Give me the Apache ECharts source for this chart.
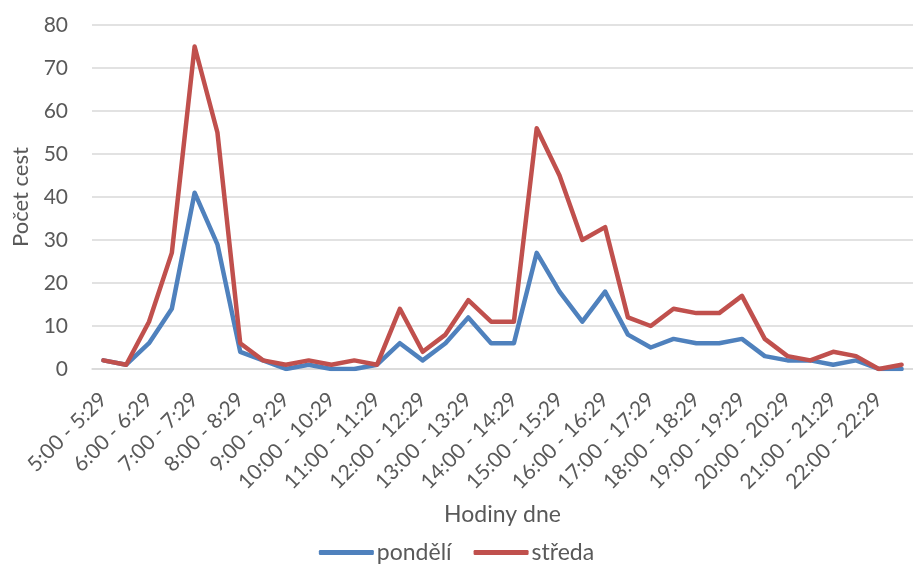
<!DOCTYPE html>
<html>
<head>
<meta charset="utf-8">
<script src="https://cdn.jsdelivr.net/npm/echarts@6/dist/echarts.min.js"></script>
<style>
  html, body { margin: 0; padding: 0; background: #fff; }
  #chart { width: 913px; height: 566px; }
</style>
</head>
<body>
<div id="chart"></div>
<script>
// Half-hour slots of the day
const categories = [
  '5:00 - 5:29', '5:30 - 5:59', '6:00 - 6:29', '6:30 - 6:59',
  '7:00 - 7:29', '7:30 - 7:59', '8:00 - 8:29', '8:30 - 8:59',
  '9:00 - 9:29', '9:30 - 9:59', '10:00 - 10:29', '10:30 - 10:59',
  '11:00 - 11:29', '11:30 - 11:59', '12:00 - 12:29', '12:30 - 12:59',
  '13:00 - 13:29', '13:30 - 13:59', '14:00 - 14:29', '14:30 - 14:59',
  '15:00 - 15:29', '15:30 - 15:59', '16:00 - 16:29', '16:30 - 16:59',
  '17:00 - 17:29', '17:30 - 17:59', '18:00 - 18:29', '18:30 - 18:59',
  '19:00 - 19:29', '19:30 - 19:59', '20:00 - 20:29', '20:30 - 20:59',
  '21:00 - 21:29', '21:30 - 21:59', '22:00 - 22:29', '22:30 - 22:59'
];

// Number of trips per slot
const pondeli = [2, 1, 6, 14, 41, 29, 4, 2, 0, 1, 0, 0, 1, 6, 2, 6, 12, 6, 6, 27,
                 18, 11, 18, 8, 5, 7, 6, 6, 7, 3, 2, 2, 1, 2, 0, 0];
const streda  = [2, 1, 11, 27, 75, 55, 6, 2, 1, 2, 1, 2, 1, 14, 4, 8, 16, 11, 11, 56,
                 45, 30, 33, 12, 10, 14, 13, 13, 17, 7, 3, 2, 4, 3, 0, 1];

const seriesNames = ['pondělí', 'středa'];
const colors = ['#4F81BD', '#C0504D'];
const font = 'Lato, "Open Sans", sans-serif';
const textColor = '#595959';

const chart = echarts.init(document.getElementById('chart'), null, { renderer: 'canvas' });

chart.setOption({
  animation: false,
  color: colors,
  textStyle: { fontFamily: font },
  grid: { left: 92, right: -10, top: 25, bottom: 197, containLabel: false },
  legend: {
    bottom: -3,
    left: 'center',
    icon: 'roundRect',
    itemWidth: 55,
    itemHeight: 5,
    itemGap: 22,
    textStyle: { fontFamily: font, fontSize: 23, color: textColor, padding: [0, 0, 0, -2] },
    data: seriesNames
  },
  xAxis: {
    type: 'category',
    data: categories,
    boundaryGap: true,
    name: 'Hodiny dne',
    nameLocation: 'middle',
    nameGap: 134,
    nameTextStyle: { fontFamily: font, fontSize: 23, color: textColor },
    axisLine: { show: true, lineStyle: { color: '#D9D9D9', width: 1.5 } },
    axisTick: { show: false },
    axisLabel: {
      interval: 1,
      rotate: 45,
      margin: 27,
      padding: [20, 0, 0, 0],
      fontFamily: font,
      fontSize: 21,
      color: textColor
    },
    splitLine: { show: false }
  },
  yAxis: {
    type: 'value',
    min: 0,
    max: 80,
    interval: 10,
    name: 'Počet cest',
    nameLocation: 'middle',
    nameGap: 60,
    nameTextStyle: { fontFamily: font, fontSize: 22, color: textColor },
    axisLine: { show: false },
    axisTick: { show: false },
    axisLabel: { margin: 24, fontFamily: font, fontSize: 21, color: textColor },
    splitLine: { lineStyle: { color: '#D9D9D9', width: 1.5 } }
  },
  series: [
    {
      name: seriesNames[0],
      type: 'line',
      data: pondeli,
      showSymbol: false,
      symbol: 'none',
      lineStyle: { width: 4.5, color: colors[0], cap: 'round', join: 'round' }
    },
    {
      name: seriesNames[1],
      type: 'line',
      data: streda,
      showSymbol: false,
      symbol: 'none',
      lineStyle: { width: 4.5, color: colors[1], cap: 'round', join: 'round' }
    }
  ]
});
</script>
</body>
</html>
